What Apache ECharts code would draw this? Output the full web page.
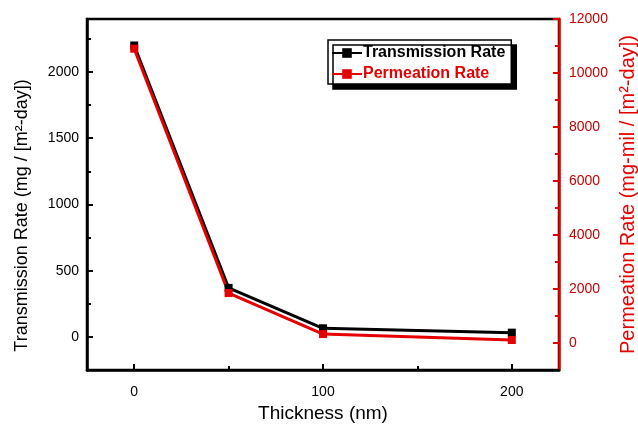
<!DOCTYPE html>
<html>
<head>
<meta charset="utf-8">
<script src="https://cdn.jsdelivr.net/npm/echarts@6/dist/echarts.min.js"></script>
<style>
  html, body { margin: 0; padding: 0; background: #fff; }
  #chart { width: 638px; height: 426px; }
</style>
</head>
<body>
<div id="chart"></div>
<script>
// Film thickness (nm) and the two measured rates
const thickness = [0, 50, 100, 200];
const transmissionRate = [2200, 370, 65, 32];       // mg / [m²-day]
const permeationRate = [10900, 1850, 330, 110];     // mg-mil / [m²-day]

// Tick marks and labels
const xMajorTicks = [0, 100, 200];
const xMinorTicks = [50, 150];
const leftMajorTicks = [0, 500, 1000, 1500, 2000];
const leftMinorTicks = [250, 750, 1250, 1750, 2250];
const rightMajorTicks = [0, 2000, 4000, 6000, 8000, 10000, 12000];
const rightMinorTicks = [1000, 3000, 5000, 7000, 9000, 11000];

const RED = '#e60000';
const FONT = '"Liberation Sans", Arial, sans-serif';

const chart = echarts.init(document.getElementById('chart'), null, { renderer: 'canvas' });

function pairs(xs, ys) { return xs.map((x, i) => [x, ys[i]]); }
const plain = v => String(v);

function minorAxis(base, ticks, color) {
  return Object.assign({
    type: 'value',
    axisLine: { show: false, onZero: false },
    axisTick: { show: true, inside: true, length: 4, lineStyle: { color: color, width: 2 }, customValues: ticks },
    axisLabel: { show: false },
    splitLine: { show: false }
  }, base);
}

const option = {
  animation: false,
  backgroundColor: '#fff',
  grid: {
    left: 87, right: 79, top: 19, bottom: 56,
    outerBoundsMode: 'none', containLabel: false,
    show: true, borderColor: '#000', borderWidth: 2.5, backgroundColor: 'transparent'
  },
  legend: {
    left: 328, top: 40,
    orient: 'vertical',
    itemWidth: 30, itemHeight: 12, itemGap: 5,
    padding: [5, 6, 2, 3],
    backgroundColor: '#fff',
    borderColor: '#000', borderWidth: 1.5,
    shadowColor: '#000', shadowBlur: 0, shadowOffsetX: 5, shadowOffsetY: 5,
    textStyle: { fontFamily: FONT, fontSize: 16, fontWeight: 'bold', lineHeight: 16, padding: [0, 0, 0, -4] },
    data: [
      { name: 'Transmission Rate', textStyle: { color: '#000' } },
      { name: 'Permeation Rate', textStyle: { color: RED } }
    ]
  },
  xAxis: [
    {
      type: 'value', min: -25, max: 225, position: 'bottom',
      name: 'Thickness (nm)', nameLocation: 'middle', nameGap: 34,
      nameTextStyle: { fontFamily: FONT, fontSize: 19, color: '#000' },
      axisLine: { show: true, onZero: false, lineStyle: { color: '#000', width: 2.5 } },
      axisTick: { show: true, inside: true, length: 6, lineStyle: { color: '#000', width: 2 }, customValues: xMajorTicks },
      axisLabel: { customValues: xMajorTicks, formatter: plain, margin: 15, fontFamily: FONT, fontSize: 14, color: '#000' },
      splitLine: { show: false }
    },
    minorAxis({ min: -25, max: 225, position: 'bottom' }, xMinorTicks, '#000')
  ],
  yAxis: [
    {
      type: 'value', min: -250, max: 2400, position: 'left',
      name: 'Transmission Rate (mg / [m²-day])', nameLocation: 'middle', nameRotate: 90, nameGap: 56,
      nameTextStyle: { fontFamily: FONT, fontSize: 18, color: '#000', padding: [0, 42, 0, 0] },
      axisLine: { show: true, onZero: false, lineStyle: { color: '#000', width: 2.5 } },
      axisTick: { show: true, inside: true, length: 6, lineStyle: { color: '#000', width: 2 }, customValues: leftMajorTicks },
      axisLabel: { customValues: leftMajorTicks, formatter: plain, margin: 8, fontFamily: FONT, fontSize: 14, color: '#000' },
      splitLine: { show: false }
    },
    minorAxis({ min: -250, max: 2400, position: 'left' }, leftMinorTicks, '#000'),
    {
      type: 'value', min: -1000, max: 12000, position: 'right',
      name: 'Permeation Rate (mg-mil / [m²-day])', nameLocation: 'middle', nameRotate: 90, nameGap: 57,
      nameTextStyle: { fontFamily: FONT, fontSize: 20, color: RED },
      axisLine: { show: true, onZero: false, lineStyle: { color: RED, width: 2.5 } },
      axisTick: { show: true, inside: true, length: 6, lineStyle: { color: RED, width: 2 }, customValues: rightMajorTicks },
      axisLabel: { customValues: rightMajorTicks, formatter: plain, margin: 10, fontFamily: FONT, fontSize: 14, color: '#c80000' },
      splitLine: { show: false }
    },
    minorAxis({ min: -1000, max: 12000, position: 'right' }, rightMinorTicks, RED)
  ],
  series: [
    {
      name: 'Transmission Rate', type: 'line', xAxisIndex: 0, yAxisIndex: 0,
      data: pairs(thickness, transmissionRate),
      symbol: 'rect', symbolSize: 8,
      lineStyle: { color: '#000', width: 3 },
      itemStyle: { color: '#000' }
    },
    {
      name: 'Permeation Rate', type: 'line', xAxisIndex: 0, yAxisIndex: 2,
      data: pairs(thickness, permeationRate),
      symbol: 'rect', symbolSize: 8,
      lineStyle: { color: RED, width: 3 },
      itemStyle: { color: RED }
    }
  ]
};

chart.setOption(option);
</script>
</body>
</html>
